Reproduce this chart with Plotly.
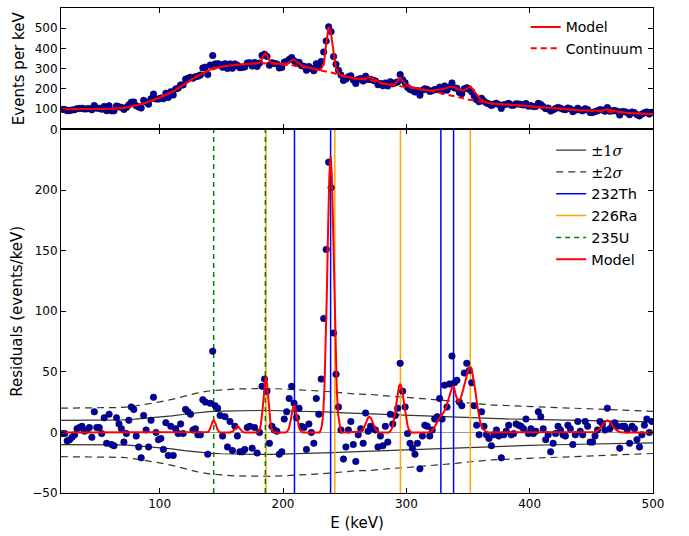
import plotly.graph_objects as go

# ---------------- data ----------------
E = list(range(21, 500, 2))  # bin centres, keV

counts = [
    99, 99, 93, 94, 96, 98, 103, 104, 105, 101, 102, 104, 97, 118, 105, 105, 100, 114, 93, 117,
    92, 92, 116, 112, 109, 99, 109, 122, 135, 136, 117, 111, 106, 144, 135, 125, 152, 175, 151, 150,
    156, 152, 179, 158, 187, 170, 200, 204, 220, 220, 248, 253, 258, 253, 261, 263, 269, 304, 308, 271,
    318, 365, 324, 325, 322, 307, 325, 301, 324, 302, 324, 317, 305, 306, 309, 328, 330, 313, 331, 311,
    328, 366, 372, 361, 317, 330, 326, 324, 304, 306, 332, 337, 346, 355, 339, 326, 332, 315, 312, 292,
    311, 302, 290, 325, 309, 336, 383, 437, 507, 483, 360, 322, 292, 269, 242, 249, 260, 265, 244, 227,
    248, 252, 239, 263, 247, 248, 243, 239, 221, 227, 216, 230, 215, 236, 226, 231, 235, 271, 246, 231,
    208, 198, 192, 185, 192, 169, 194, 201, 198, 188, 191, 197, 197, 209, 190, 215, 194, 210, 230, 205,
    204, 183, 177, 201, 206, 198, 186, 165, 147, 137, 154, 140, 131, 126, 118, 126, 129, 123, 104, 122,
    125, 129, 120, 120, 127, 126, 124, 121, 128, 115, 118, 113, 114, 129, 124, 113, 103, 106, 91, 97,
    104, 109, 105, 100, 98, 106, 102, 88, 95, 105, 96, 92, 103, 98, 84, 84, 88, 92, 98, 96,
    90, 108, 90, 92, 94, 90, 71, 89, 88, 84, 73, 86, 83, 73, 67, 76, 83, 87, 76, 84,
]

residuals = [
    -1, -1, -7, -6, -4, -2, 3, 4, 5, 1, 2, 4, -4, 17, 4, 4, -1, 12, -9, 15,
    -10, -11, 12, 7, 3, -8, -1, 10, 21, 19, -3, -12, -21, 14, 2, -12, 10, 29, 0, -6,
    -5, -14, 8, -19, 5, -19, 3, -1, 7, -1, 19, 17, 15, 2, 3, -2, -2, 27, 25, -18,
    24, 67, 22, 20, 14, -3, 13, -12, 9, -15, 5, -3, -16, -16, -14, 4, 5, -13, 4, -17,
    0, 38, 44, 34, -9, 5, 2, 1, -18, -16, 11, 17, 28, 38, 24, 12, 20, 5, 4, -14,
    7, 0, -9, 28, 15, 44, 94, 151, 223, 202, 82, 48, 21, 2, -22, -12, 2, 9, -10, -24,
    -2, 3, -9, 16, 1, 5, 3, 2, -12, -3, -11, 5, -8, 15, 7, 14, 20, 57, 34, 21,
    -1, -9, -13, -18, -9, -30, -3, 6, 5, -3, 2, 11, 13, 28, 11, 39, 21, 40, 63, 41,
    43, 25, 22, 49, 57, 51, 41, 22, 6, -2, 17, 5, -2, -5, -11, -2, 2, -3, -21, -2,
    1, 6, -2, -1, 7, 6, 5, 3, 11, -1, 3, -1, 1, 17, 13, 3, -6, -2, -16, -9,
    -1, 5, 2, -2, -3, 6, 3, -10, -2, 9, 1, -2, 9, 5, -8, -8, -3, 2, 9, 7,
    2, 20, 3, 6, 8, 5, -13, 5, 5, 2, -9, 5, 3, -6, -12, -2, 6, 11, 0, 9,
]

cont_E = [20, 40, 60, 70, 80, 90, 100, 110, 120, 130, 140, 150, 160, 170, 180, 190, 200, 210,
          220, 230, 240, 250, 260, 270, 280, 290, 300, 310, 320, 330, 340, 350, 360, 370, 380,
          390, 400, 420, 440, 460, 480, 500]
continuum = [100, 100, 102, 106, 118, 135, 158, 185, 225, 262, 292, 310, 318, 324, 328, 326, 322, 315,
             305, 293, 280, 262, 250, 245, 228, 218, 210, 200, 190, 178, 163, 148, 138, 128, 124,
             120, 115, 105, 95, 88, 82, 75]

model_top_E = [20, 40, 60, 70, 80, 90, 100, 110, 120, 130, 140, 142, 144, 146, 150, 160, 170, 180,
               182, 184, 186, 188, 190, 200, 204, 207, 209, 212, 216, 230, 233, 235, 237, 239, 241,
               243, 246, 250, 260, 266, 270, 274, 280, 290, 293, 295, 297, 300, 310, 320, 326, 330,
               334, 338, 342, 346, 350, 352, 355, 360, 365, 370, 380, 400, 420, 440, 456, 463, 470,
               480, 500]
model_top = [100, 100, 102, 106, 118, 135, 158, 185, 225, 262, 292, 300, 306, 304, 310, 318, 324, 328,
             335, 365, 378, 355, 330, 322, 328, 340, 345, 330, 312, 293, 320, 420, 509, 470, 370,
             300, 272, 262, 250, 252, 260, 248, 228, 220, 240, 255, 240, 218, 200, 192, 196, 200,
             208, 212, 198, 192, 205, 212, 188, 150, 133, 128, 124, 115, 105, 95, 92, 100, 90,
             82, 75]

sigma_E = [20, 40, 60, 70, 80, 90, 100, 110, 120, 130, 140, 150, 160, 170, 180, 190, 200, 210, 220,
           230, 240, 250, 260, 270, 280, 290, 300, 310, 320, 330, 340, 350, 360, 370, 380, 400, 420,
           440, 460, 480, 500]
sigma = [10, 10, 10.1, 10.3, 10.9, 11.6, 12.6, 13.6, 15, 16.2, 17.1, 17.6, 17.9, 18, 18.1, 18.1, 17.9,
         17.7, 17.5, 17.1, 16.7, 16.2, 15.8, 15.7, 15.1, 14.8, 14.5, 14.1, 13.8, 13.3, 12.8, 12.2, 11.7,
         11.3, 11.1, 10.7, 10.2, 9.7, 9.4, 9.1, 8.7]

model_res_E = [20, 138, 139, 140, 141, 142, 143, 143.8, 145, 146, 147, 148, 149,
               157, 158, 159, 160, 161, 162, 163, 164, 165, 166, 167, 168, 169,
               179, 180, 181, 182, 183, 184, 185, 186, 187, 188, 189, 190, 191, 192, 193,
               202, 203, 204, 205, 206, 207, 208, 209, 210, 211, 212, 213, 214, 215, 216,
               229.6, 230.6, 231.6, 232.6, 233.6, 234.6, 235.6, 236.6, 237.6, 238.6, 239.6, 240.6,
               241.6, 242.6, 243.6, 244.6, 245.6, 246.6, 247.6,
               262, 263, 264, 265, 266, 267, 268, 269, 270, 271, 272, 273, 274, 275, 276, 277, 278,
               286, 287, 288, 289, 290, 291, 292, 293, 294, 295, 296, 297, 298, 299, 300, 301, 302,
               303, 304,
               318, 320, 322, 324, 326, 328, 330, 332, 334, 335, 336, 337, 338, 339, 340, 341, 342,
               343, 344, 346, 348, 350, 351, 352, 353, 354, 356, 358, 360, 362, 364, 366,
               449, 451, 453, 455, 457, 459, 461, 463, 465, 467, 469, 471, 473, 475, 477,
               500]
model_res = [0, 0, 0.3, 1.1, 3, 6.1, 9.1, 10, 8, 4.7, 2.1, 0.7, 0,
             0, 0.2, 0.7, 1.6, 3, 4.4, 5, 4.4, 3, 1.6, 0.7, 0.2, 0,
             0, 0.5, 2, 6.2, 15, 27.9, 40.6, 46, 40.6, 27.9, 15, 6.2, 2, 0.5, 0,
             0, 0.5, 1.7, 4.2, 8.7, 14.6, 19.8, 22, 19.8, 14.6, 8.7, 4.2, 1.7, 0.5, 0,
             0, 2, 6, 16, 36, 70, 117, 170, 212, 228, 212, 170,
             117, 70, 36, 16, 6, 2, 0,
             0, 0.6, 1.3, 2.6, 4.7, 7.3, 10.1, 12.2, 13, 12.2, 10.1, 7.3, 4.7, 2.6, 1.3, 0.6, 0,
             0, 1.2, 2.6, 5.4, 10, 16.4, 24.3, 32, 37.8, 40, 37.8, 32, 24.3, 16.4, 10, 5.4, 2.6,
             1.2, 0,
             0, 1, 3, 6.5, 11, 14, 16, 20, 27, 31, 34, 37, 38, 36, 31, 27, 25.5,
             26, 28, 35, 44, 51, 53.5, 54, 52, 47, 34, 19, 8, 3, 1, 0,
             0, 0.1, 0.4, 1.4, 3.2, 6.1, 8.8, 10, 8.8, 6.1, 3.2, 1.4, 0.4, 0.1, 0,
             0]

th232 = [209.3, 238.6, 328.0, 338.3]
ra226 = [186.2, 242.0, 295.2, 351.9]
u235 = [143.8, 185.7]

x_range = [20, 500]
top_range = [0, 600]
res_range = [-50, 250]
x_ticks = [100, 200, 300, 400, 500]
top_ticks = [0, 100, 200, 300, 400, 500]
res_ticks = [-50, 0, 50, 100, 150, 200]

# ---------------- figure ----------------
FONT = "DejaVu Sans"
SPLIT = 0.7495
DOT = dict(size=6.5, color="#0000a8", line=dict(color="#000030", width=0.6))


def vlines(energies):
    xs, ys = [], []
    for e in energies:
        xs += [e, e, None]
        ys += [res_range[0], res_range[1], None]
    return xs, ys


fig = go.Figure()

# top panel
fig.add_trace(go.Scatter(x=E, y=counts, mode="markers", marker=DOT, xaxis="x2", yaxis="y2",
                         showlegend=False, hoverinfo="skip"))
fig.add_trace(go.Scatter(x=cont_E, y=continuum, mode="lines", name="Continuum",
                         line=dict(color="#ff0000", width=2, dash="6px,4px"),
                         xaxis="x2", yaxis="y2", legend="legend", legendrank=2))
fig.add_trace(go.Scatter(x=model_top_E, y=model_top, mode="lines", name="Model",
                         line=dict(color="#ff0000", width=2),
                         xaxis="x2", yaxis="y2", legend="legend", legendrank=1))

# bottom panel
s1p = sigma
s1m = [-s for s in sigma]
s2p = [2 * s for s in sigma]
s2m = [-2 * s for s in sigma]
sig_lab1 = '<span style="font-family:DejaVu Serif">±1<i>σ</i></span>'
sig_lab2 = '<span style="font-family:DejaVu Serif">±2<i>σ</i></span>'
fig.add_trace(go.Scatter(x=sigma_E, y=s1p, mode="lines", name=sig_lab1, legendgroup="s1",
                         line=dict(color="#333333", width=1.2), legend="legend2"))
fig.add_trace(go.Scatter(x=sigma_E, y=s1m, mode="lines", legendgroup="s1", showlegend=False,
                         line=dict(color="#333333", width=1.2)))
fig.add_trace(go.Scatter(x=sigma_E, y=s2p, mode="lines", name=sig_lab2, legendgroup="s2",
                         line=dict(color="#333333", width=1.2, dash="7px,5px"), legend="legend2"))
fig.add_trace(go.Scatter(x=sigma_E, y=s2m, mode="lines", legendgroup="s2", showlegend=False,
                         line=dict(color="#333333", width=1.2, dash="7px,5px")))

for name, energies, style in [
    ("232Th", th232, dict(color="#0000ff", width=1.5)),
    ("226Ra", ra226, dict(color="#ffa500", width=1.5)),
    ("235U", u235, dict(color="#008000", width=1.5, dash="5px,4px")),
]:
    xs, ys = vlines(energies)
    fig.add_trace(go.Scatter(x=xs, y=ys, mode="lines", name=name, line=style,
                             legend="legend2", hoverinfo="skip"))

fig.add_trace(go.Scatter(x=E, y=residuals, mode="markers", marker=DOT, showlegend=False,
                         hoverinfo="skip"))
fig.add_trace(go.Scatter(x=model_res_E, y=model_res, mode="lines", name="Model",
                         line=dict(color="#ff0000", width=2), legend="legend2"))

axis_common = dict(showline=True, linecolor="black", linewidth=1, mirror="ticks",
                   ticks="inside", ticklen=5, tickcolor="black", showgrid=False,
                   tickfont=dict(family=FONT, size=12, color="black"))

fig.update_layout(
    width=689, height=536,
    margin=dict(l=61, r=36, t=7, b=38),
    paper_bgcolor="white", plot_bgcolor="white",
    font=dict(family=FONT, color="black"),
    xaxis=dict(domain=[0, 1], range=x_range, anchor="y", tickvals=x_ticks,
               title=dict(text="E (keV)", font=dict(size=15), standoff=7),
               zeroline=False, **axis_common),
    yaxis=dict(domain=[0, SPLIT], range=res_range, anchor="x", tickvals=res_ticks,
               title=dict(text="Residuals (events/keV)", font=dict(size=15), standoff=6),
               zeroline=True, zerolinecolor="#9a9a9a", zerolinewidth=1, **axis_common),
    xaxis2=dict(domain=[0, 1], range=x_range, anchor="y2", matches="x", tickvals=x_ticks,
                showticklabels=False, zeroline=False, **axis_common),
    yaxis2=dict(domain=[SPLIT, 1], range=top_range, anchor="x2", tickvals=top_ticks,
                title=dict(text="Events per keV", font=dict(size=15), standoff=6),
                zeroline=False, **axis_common),
    legend=dict(x=0.785, y=0.993, xanchor="left", yanchor="top", bgcolor="rgba(0,0,0,0)",
                font=dict(family=FONT, size=14), itemwidth=30, tracegroupgap=0),
    legend2=dict(x=0.828, y=0.74, xanchor="left", yanchor="top", bgcolor="rgba(0,0,0,0)",
                 font=dict(family=FONT, size=14.5), itemwidth=30, tracegroupgap=0),
    showlegend=True,
)

fig.write_html("out.html", config={"displayModeBar": False},
               post_script="document.body.style.margin='0px';")
